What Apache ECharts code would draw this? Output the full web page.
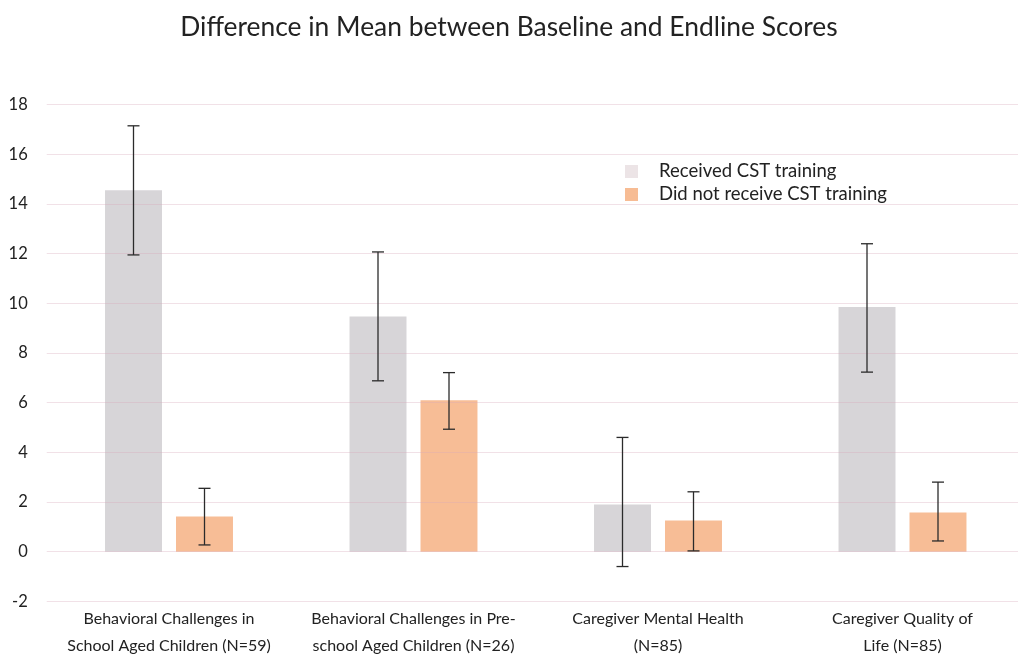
<!DOCTYPE html>
<html>
<head>
<meta charset="utf-8">
<script src="https://cdn.jsdelivr.net/npm/echarts@6/dist/echarts.min.js"></script>
<style>html,body{margin:0;padding:0;background:#fff}#c{width:1018px;height:655px}</style>
</head>
<body>
<div id="c"></div>
<script>
const categories = [
  "Behavioral Challenges in\nSchool Aged Children (N=59)",
  "Behavioral Challenges in Pre-\nschool Aged Children (N=26)",
  "Caregiver Mental Health\n(N=85)",
  "Caregiver Quality of\nLife (N=85)"
];
const seriesNames = ["Received CST training", "Did not receive CST training"];
const receivedMean = [14.55, 9.47, 1.9, 9.85];
const receivedLow = [11.95, 6.88, -0.6, 7.23];
const receivedHigh = [17.15, 12.07, 4.6, 12.4];
const notReceivedMean = [1.42, 6.1, 1.25, 1.58];
const notReceivedLow = [0.27, 4.93, 0.03, 0.43];
const notReceivedHigh = [2.55, 7.21, 2.41, 2.8];

const FONT = "Lato, 'Open Sans', sans-serif";
const chart = echarts.init(document.getElementById('c'));

function errData(low, high) {
  return low.map((l, i) => [i, l, high[i]]);
}
function errSeries(low, high, side) {
  return {
    type: 'custom',
    z: 20,
    silent: true,
    data: errData(low, high),
    renderItem: function (params, api) {
      const idx = api.value(0);
      const bw = api.size([1, 0])[0];
      const off = side * bw * 0.1452;
      const p1 = api.coord([idx, api.value(1)]);
      const p2 = api.coord([idx, api.value(2)]);
      const x = p1[0] + off;
      const cap = 6;
      const st = { stroke: '#2b2b2b', lineWidth: 1.3 };
      return {
        type: 'group',
        children: [
          { type: 'line', shape: { x1: x, y1: p1[1], x2: x, y2: p2[1] }, style: st },
          { type: 'line', shape: { x1: x - cap, y1: p1[1], x2: x + cap, y2: p1[1] }, style: st },
          { type: 'line', shape: { x1: x - cap, y1: p2[1], x2: x + cap, y2: p2[1] }, style: st }
        ]
      };
    }
  };
}

chart.setOption({
  animation: false,
  backgroundColor: '#fff',
  title: {
    text: 'Difference in Mean between Baseline and Endline Scores',
    left: 'center',
    top: 9,
    textStyle: { fontFamily: FONT, fontSize: 26.4, fontWeight: 'normal', color: '#222' }
  },
  legend: {
    orient: 'vertical',
    left: 620,
    top: 157,
    itemWidth: 13,
    itemHeight: 13,
    itemGap: 4,
    textStyle: { fontFamily: FONT, fontSize: 18.5, color: '#222', padding: [0, 0, 0, 16] },
    data: [
      { name: seriesNames[0], icon: 'rect', itemStyle: { color: '#ece4e6' } },
      { name: seriesNames[1], icon: 'rect', itemStyle: { color: '#f7bc94' } }
    ]
  },
  grid: { left: 46.75, right: -6.75, top: 104.7, bottom: 53.7, containLabel: false, outerBoundsMode: 'none' },
  xAxis: {
    type: 'category',
    data: categories,
    axisLine: { show: false },
    axisTick: { show: false },
    axisLabel: { fontFamily: FONT, fontSize: 16, color: '#222', lineHeight: 27, margin: 4, interval: 0 }
  },
  yAxis: {
    type: 'value',
    min: -2, max: 18, interval: 2,
    z: 10,
    axisLine: { show: false },
    axisTick: { show: false },
    axisLabel: { fontFamily: FONT, fontSize: 16.5, color: '#222', margin: 19 },
    splitLine: { lineStyle: { color: 'rgba(215,170,185,0.35)', width: 1 } }
  },
  series: [
    {
      name: seriesNames[0], type: 'bar', data: receivedMean,
      barWidth: '23.3%', barGap: '24.6%',
      itemStyle: { color: '#d7d5d8' }
    },
    {
      name: seriesNames[1], type: 'bar', data: notReceivedMean,
      barWidth: '23.3%', barGap: '24.6%',
      itemStyle: { color: '#f7bd96' }
    },
    errSeries(receivedLow, receivedHigh, -1),
    errSeries(notReceivedLow, notReceivedHigh, 1)
  ]
});
</script>
</body>
</html>
